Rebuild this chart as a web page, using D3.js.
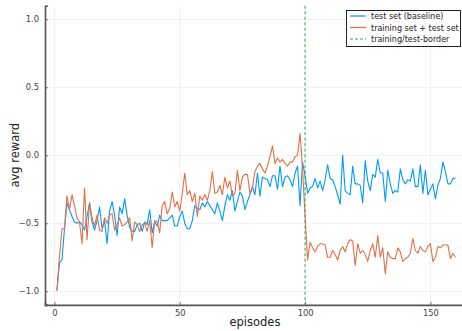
<!DOCTYPE html>
<html><head><meta charset="utf-8">
<script src="https://cdn.jsdelivr.net/npm/d3@7"></script>
<style>body{margin:0;background:#fff}svg{display:block}text{font-family:"DejaVu Sans",sans-serif}</style>
</head><body><svg id="c" width="462" height="331"></svg>
<script>
const episodes = d3.range(1, 161);
const baseline = [
-0.99,-0.79,-0.77,-0.54,-0.35,-0.40,-0.45,-0.49,-0.50,-0.49,
-0.51,-0.55,-0.45,-0.35,-0.49,-0.55,-0.48,-0.38,-0.54,-0.48,
-0.65,-0.41,-0.34,-0.44,-0.59,-0.38,-0.43,-0.32,-0.44,-0.53,
-0.56,-0.56,-0.51,-0.50,-0.56,-0.49,-0.51,-0.40,-0.57,-0.49,
-0.52,-0.44,-0.48,-0.48,-0.48,-0.46,-0.44,-0.52,-0.52,-0.45,
-0.41,-0.50,-0.54,-0.54,-0.48,-0.37,-0.39,-0.40,-0.35,-0.38,
-0.34,-0.37,-0.40,-0.43,-0.35,-0.41,-0.48,-0.37,-0.29,-0.33,
-0.26,-0.41,-0.34,-0.27,-0.30,-0.40,-0.34,-0.29,-0.23,-0.29,
-0.13,-0.30,-0.16,-0.17,-0.18,-0.23,-0.15,-0.15,-0.25,-0.08,
-0.23,-0.16,-0.15,-0.18,-0.23,-0.13,-0.08,-0.37,-0.05,-0.15,
-0.28,-0.24,-0.23,-0.17,-0.24,-0.19,-0.26,-0.18,-0.07,-0.17,
-0.18,-0.23,-0.29,-0.36,0.00,-0.26,-0.28,-0.29,-0.08,-0.21,
-0.21,-0.22,-0.35,-0.04,-0.19,-0.26,-0.14,-0.16,-0.03,-0.13,
-0.13,-0.34,-0.11,-0.21,-0.28,-0.26,-0.27,-0.10,-0.18,-0.21,
-0.18,-0.19,-0.10,-0.23,-0.23,-0.07,-0.28,-0.11,-0.29,-0.25,
-0.21,-0.32,-0.22,-0.17,-0.05,-0.12,-0.21,-0.21,-0.17,-0.17];
const combined = [
-1.00,-0.75,-0.54,-0.54,-0.30,-0.40,-0.29,-0.37,-0.46,-0.49,
-0.65,-0.24,-0.62,-0.35,-0.46,-0.52,-0.44,-0.55,-0.56,-0.46,
-0.50,-0.44,-0.43,-0.55,-0.51,-0.46,-0.52,-0.51,-0.49,-0.46,
-0.63,-0.49,-0.51,-0.56,-0.51,-0.50,-0.56,-0.48,-0.68,-0.48,
-0.49,-0.57,-0.37,-0.34,-0.43,-0.39,-0.27,-0.38,-0.34,-0.41,
-0.28,-0.13,-0.29,-0.26,-0.34,-0.28,-0.45,-0.30,-0.33,-0.29,
-0.33,-0.26,-0.12,-0.28,-0.27,-0.22,-0.29,-0.16,-0.24,-0.19,
-0.30,-0.28,-0.11,-0.26,-0.16,-0.14,-0.14,-0.28,-0.24,-0.12,
-0.08,-0.06,-0.10,-0.13,-0.08,-0.01,0.07,-0.06,-0.02,-0.05,
-0.03,-0.06,-0.08,-0.05,-0.05,-0.01,0.00,0.16,-0.10,-0.45,
-0.77,-0.64,-0.68,-0.71,-0.67,-0.65,-0.65,-0.66,-0.75,-0.75,
-0.70,-0.73,-0.77,-0.70,-0.67,-0.71,-0.65,-0.62,-0.63,-0.81,
-0.65,-0.72,-0.70,-0.73,-0.78,-0.70,-0.65,-0.75,-0.59,-0.75,
-0.68,-0.87,-0.71,-0.75,-0.76,-0.76,-0.68,-0.71,-0.78,-0.76,
-0.75,-0.72,-0.61,-0.70,-0.72,-0.67,-0.70,-0.71,-0.67,-0.65,
-0.78,-0.75,-0.67,-0.68,-0.66,-0.66,-0.66,-0.76,-0.72,-0.75];
const seriesNames = ["test set (baseline)", "training set + test set", "training/test-border"];
const seriesColors = ["#009AFA", "#E26F46", "#3DA44D"];
const borderEpisode = 100;
const xTicks = [0, 50, 100, 150];
const yTicks = [-1.0, -0.5, 0.0, 0.5, 1.0];

const svg = d3.select("#c");
const L = 45, R = 467.4, T = 5.7, B = 304.9;
const x = d3.scaleLinear().domain([-3.77, 164.77]).range([L, R]);
const y = d3.scaleLinear().domain([-1.1, 1.1]).range([B, T]);

// grid
svg.append("g").selectAll("line").data(xTicks).join("line")
  .attr("x1", d => x(d)).attr("x2", d => x(d)).attr("y1", T).attr("y2", B)
  .attr("stroke", "#000").attr("stroke-opacity", 0.1).attr("stroke-width", 0.6);
svg.append("g").selectAll("line").data(yTicks).join("line")
  .attr("y1", d => y(d)).attr("y2", d => y(d)).attr("x1", L).attr("x2", R)
  .attr("stroke", "#000").attr("stroke-opacity", 0.1).attr("stroke-width", 0.6);

// axes
const xa = svg.append("g").attr("transform", `translate(0,${B})`)
  .call(d3.axisBottom(x).tickValues(xTicks).tickFormat(d3.format("d")).tickSize(-3).tickPadding(5));
const ya = svg.append("g").attr("transform", `translate(${L},0)`)
  .call(d3.axisLeft(y).tickValues(yTicks).tickFormat(d3.format(".1f")).tickSize(-3).tickPadding(6));
[xa, ya].forEach(a => {
  a.select(".domain").attr("stroke", "#555").attr("stroke-width", 1.6);
  a.selectAll(".tick line").attr("stroke", "#555").attr("stroke-width", 0.8);
  a.selectAll("text").attr("font-size", 8.3).attr("fill", "#444").style("font-family", "DejaVu Sans");
});

const line = d3.line().x((d, i) => x(episodes[i])).y(d => y(d));
svg.append("path").datum(baseline).attr("d", line).attr("fill", "none")
  .attr("stroke", seriesColors[0]).attr("stroke-width", 1.1).attr("stroke-linejoin", "round");
svg.append("path").datum(combined).attr("d", line).attr("fill", "none")
  .attr("stroke", seriesColors[1]).attr("stroke-width", 1.1).attr("stroke-linejoin", "round");
svg.append("line").attr("x1", x(borderEpisode)).attr("x2", x(borderEpisode)).attr("y1", T).attr("y2", B)
  .attr("stroke", seriesColors[2]).attr("stroke-width", 1).attr("stroke-dasharray", "3,2.5");

// axis labels
svg.append("text").attr("x", x(80)).attr("y", 326).attr("text-anchor", "middle")
  .attr("font-size", 11.5).attr("fill", "#222").text("episodes");
svg.append("text").attr("transform", `translate(19,${y(0)}) rotate(-90)`).attr("text-anchor", "middle")
  .attr("font-size", 11.5).attr("fill", "#222").text("avg reward");

// legend
const lg = svg.append("g");
lg.append("rect").attr("x", 346.5).attr("y", 10.5).attr("width", 114).attr("height", 36)
  .attr("fill", "#fff").attr("stroke", "#222").attr("stroke-width", 1);
seriesNames.forEach((n, i) => {
  const yy = 16 + i * 11.5;
  lg.append("line").attr("x1", 350).attr("x2", 366).attr("y1", yy).attr("y2", yy)
    .attr("stroke", seriesColors[i]).attr("stroke-width", 1.2)
    .attr("stroke-dasharray", i === 2 ? "3,2" : null);
  lg.append("text").attr("x", 371).attr("y", yy + 3).attr("font-size", 8).attr("fill", "#222").text(n);
});
</script></body></html>
